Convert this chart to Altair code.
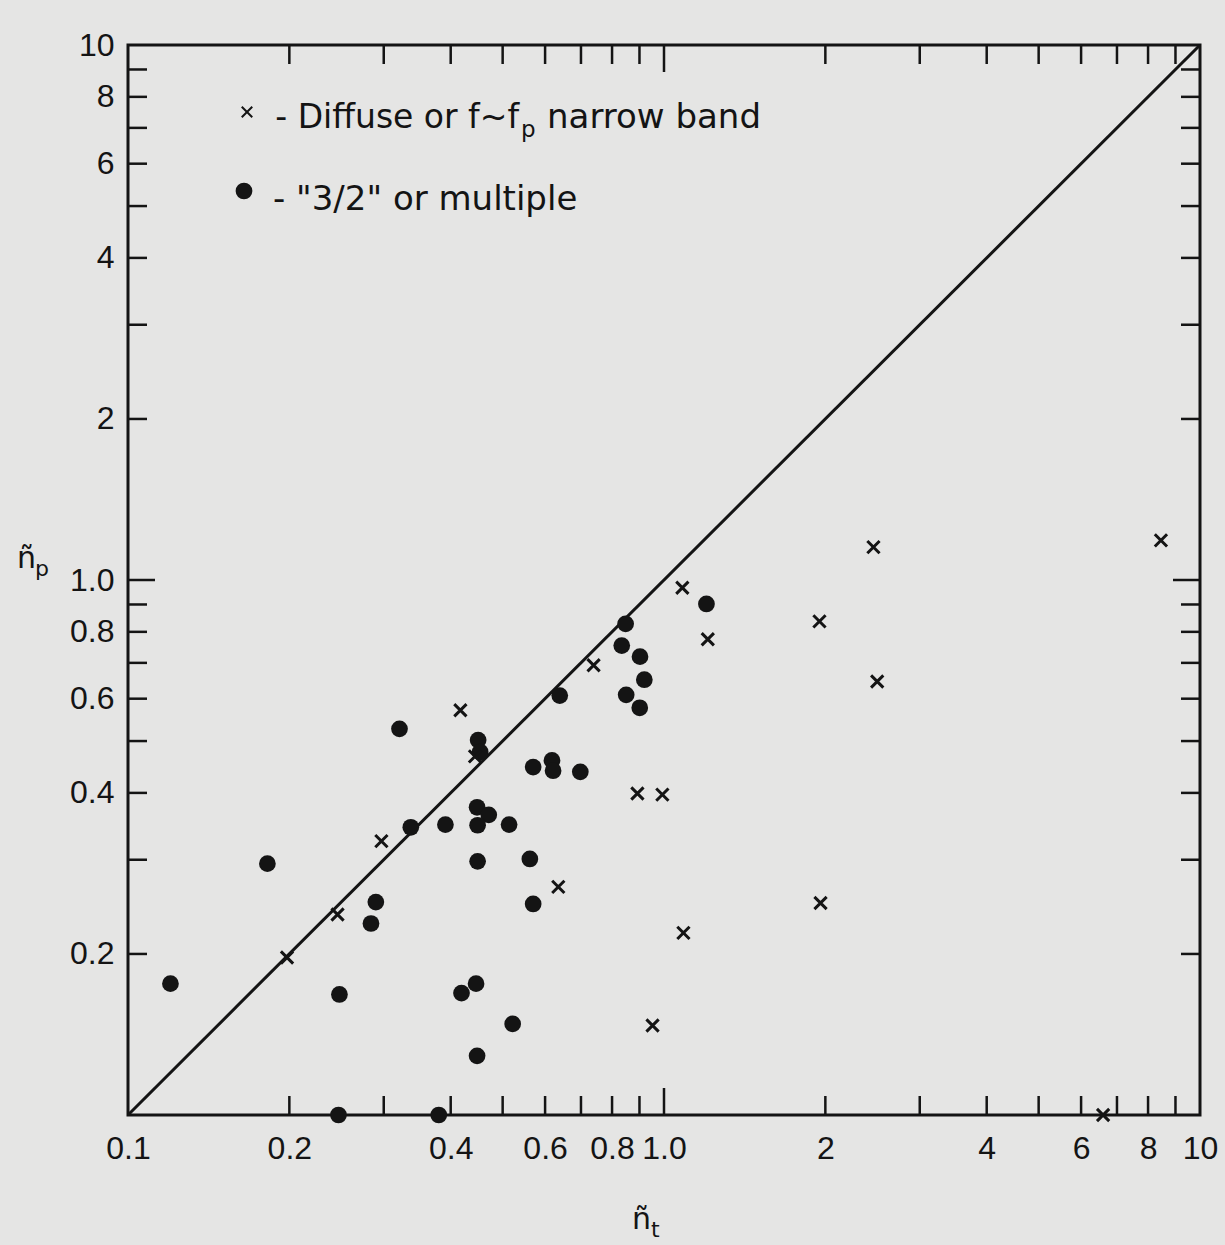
import altair as alt
import pandas as pd

# ---------------- data ----------------
circle_x = [0.120, 0.182, 0.248, 0.247, 0.284, 0.290, 0.321, 0.337, 0.380, 0.391,
            0.419, 0.446, 0.448, 0.448, 0.471, 0.449, 0.514, 0.449, 0.450, 0.454,
            0.522, 0.562, 0.570, 0.570, 0.618, 0.621, 0.698, 0.639, 0.848, 0.834,
            0.902, 0.919, 0.850, 0.901, 1.20]
circle_y = [0.176, 0.295, 0.168, 0.100, 0.228, 0.250, 0.527, 0.345, 0.100, 0.349,
            0.169, 0.176, 0.129, 0.376, 0.364, 0.348, 0.349, 0.298, 0.502, 0.477,
            0.148, 0.301, 0.248, 0.447, 0.460, 0.440, 0.438, 0.608, 0.828, 0.754,
            0.719, 0.651, 0.610, 0.577, 0.902]

cross_x = [0.198, 0.246, 0.297, 0.417, 0.444, 0.635, 0.739, 0.892, 0.993, 1.087,
           1.082, 1.207, 0.952, 1.950, 1.959, 2.459, 2.499, 8.455, 6.595]
cross_y = [0.197, 0.237, 0.325, 0.571, 0.468, 0.267, 0.693, 0.399, 0.397, 0.219,
           0.967, 0.775, 0.147, 0.837, 0.249, 1.152, 0.646, 1.186, 0.100]

diag_x = [0.1, 10.0]
diag_y = [0.1, 10.0]

x_label_values = [0.1, 0.2, 0.4, 0.6, 0.8, 1.0, 2, 4, 6, 8, 10]
x_label_texts = ["0.1", "0.2", "0.4", "0.6", "0.8", "1.0", "2", "4", "6", "8", "10"]
y_label_values = [0.2, 0.4, 0.6, 0.8, 1.0, 2, 4, 6, 8, 10]
y_label_texts = ["0.2", "0.4", "0.6", "0.8", "1.0", "2", "4", "6", "8", "10"]

tick_minor = [0.2, 0.3, 0.4, 0.5, 0.6, 0.7, 0.8, 0.9, 2, 3, 4, 5, 6, 7, 8, 9]
tick_major = [1.0]

legend_texts = ["- Diffuse or f~f", "p", "narrow band", '- "3/2" or multiple']
title_parts = ["ñ", "p", "ñ", "t"]

# ---------------- styling ----------------
W, H = 1072, 1070
LEFT, TOP = 128, 45
INK = "#141414"
BG = "#e5e5e4"
FONT = "DejaVu Sans"
LABEL_FONT = "Liberation Sans"

XS = alt.Scale(type="log", domain=[0.1, 10], nice=False, zero=False)
YS = alt.Scale(type="log", domain=[0.1, 10], nice=False, zero=False)


def label_expr(vals, texts):
    expr = "''"
    for v, t in reversed(list(zip(vals, texts))):
        expr = f"abs(datum.value - {v}) < {v / 1000.0:.6f} ? '{t}' : " + expr
    return expr


pts_c = pd.DataFrame({"x": circle_x, "y": circle_y})
pts_x = pd.DataFrame({"x": cross_x, "y": cross_y})
diag = pd.DataFrame({"x": diag_x, "y": diag_y})

# the diagonal carries the axes (first layer, so its axis definition is used)
line = alt.Chart(diag).mark_line(strokeWidth=3, color=INK).encode(
    x=alt.X("x:Q", scale=XS, title=None, axis=alt.Axis(
        values=x_label_values, labelExpr=label_expr(x_label_values, x_label_texts),
        ticks=False, tickSize=0, domain=False, grid=False, labelFont=LABEL_FONT,
        labelFontSize=32, labelColor=INK, labelPadding=18, labelOverlap=False,
        labelFlush=False, title=None)),
    y=alt.Y("y:Q", scale=YS, title=None, axis=alt.Axis(
        values=y_label_values, labelExpr=label_expr(y_label_values, y_label_texts),
        ticks=False, tickSize=0, domain=False, grid=False, labelFont=LABEL_FONT,
        labelFontSize=32, labelColor=INK, labelPadding=14, labelOverlap=False,
        labelFlush=False, title=None)),
)

circles = alt.Chart(pts_c).mark_point(
    shape="circle", filled=True, size=280, color=INK, opacity=1
).encode(
    x=alt.X("x:Q", scale=XS, title=None),
    y=alt.Y("y:Q", scale=YS, title=None),
)

crosses = alt.Chart(pts_x).mark_point(
    shape="M-1,-1L1,1M-1,1L1,-1", filled=False, size=150, strokeWidth=3,
    color=INK, opacity=1
).encode(
    x=alt.X("x:Q", scale=XS, title=None),
    y=alt.Y("y:Q", scale=YS, title=None),
)


def ticks(vals, length):
    d = pd.DataFrame({"x": vals, "y": vals})
    base = alt.Chart(d).mark_rule(strokeWidth=2.5, color=INK)
    return [
        base.encode(x=alt.X("x:Q", scale=XS, title=None), y=alt.value(H), y2=alt.value(H - length)),
        base.encode(x=alt.X("x:Q", scale=XS, title=None), y=alt.value(0), y2=alt.value(length)),
        base.encode(y=alt.Y("y:Q", scale=YS, title=None), x=alt.value(0), x2=alt.value(length)),
        base.encode(y=alt.Y("y:Q", scale=YS, title=None), x=alt.value(W), x2=alt.value(W - length)),
    ]


def text_layer(s, x, y, size, align="left"):
    return alt.Chart(pd.DataFrame({"s": [s]})).mark_text(
        font=FONT, fontSize=size, align=align, baseline="alphabetic", color=INK
    ).encode(x=alt.value(x - LEFT), y=alt.value(y - TOP), text="s:N")


def symbol_layer(shape, x, y, size, filled, sw=0):
    kw = dict(shape=shape, filled=filled, size=size, color=INK, opacity=1)
    if not filled:
        kw["strokeWidth"] = sw
    return alt.Chart(pd.DataFrame({"s": [legend_texts[0]]})).mark_point(**kw).encode(
        x=alt.value(x - LEFT), y=alt.value(y - TOP))


layers = [line] + ticks(tick_minor, 19) + ticks(tick_major, 27) + [circles, crosses]
# annotation positions below are given in page pixels
layers += [
    symbol_layer("M-1,-1L1,1M-1,1L1,-1", 247, 112, 110, False, 2),
    text_layer(legend_texts[0], 519, 128, 33, "right"),
    text_layer(legend_texts[1], 521, 137, 23),
    text_layer(legend_texts[2], 547, 128, 34),
    symbol_layer("circle", 244, 191, 280, True),
    text_layer(legend_texts[3], 273, 210, 34),
    text_layer(title_parts[0], 17, 568, 30),
    text_layer(title_parts[1], 35, 576, 22),
    text_layer(title_parts[2], 632, 1229, 30),
    text_layer(title_parts[3], 651, 1237, 22),
]

chart = alt.layer(*layers).properties(
    width=W, height=H,
    autosize=alt.AutoSizeParams(type="none"),
    padding={"left": LEFT, "top": TOP, "right": 1225 - LEFT - W, "bottom": 1245 - TOP - H},
    background=BG,
).configure_view(stroke=INK, strokeWidth=3)

chart.save("out.html", embed_options={"renderer": "svg", "actions": False})
